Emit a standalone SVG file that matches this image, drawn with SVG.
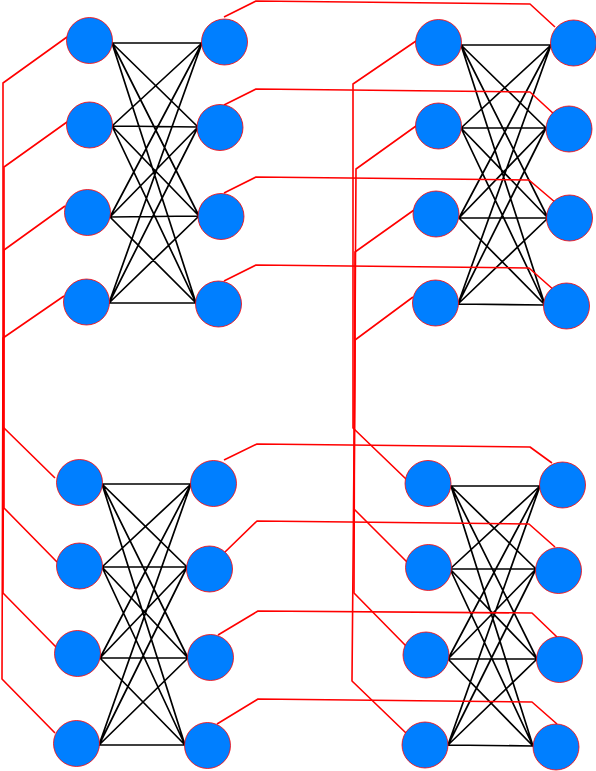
<svg xmlns="http://www.w3.org/2000/svg" width="596" height="771" viewBox="0 0 596 771">
<style>
.bg{fill:#ffffff}
.edge{stroke:#000000;stroke-width:1.7;fill:none;stroke-linecap:round}
.link{stroke:#ff0000;stroke-width:1.6;fill:none;stroke-linejoin:round}
.node circle{fill:#007fff;stroke:#ff0000;stroke-width:0.8}
</style>
<rect class="bg" x="0" y="0" width="596" height="771"/>
<g id="connectors">
<g id="edges-black">
<path class="edge" d="M112,43 L202,43 M112,43 L198,127 M112,43 L199,216 M112,43 L196,303 M112,126 L202,43 M112,126 L198,127 M112,126 L199,216 M112,126 L196,303 M110,217 L202,43 M110,217 L198,127 M110,217 L199,216 M110,217 L196,303 M109,303 L202,43 M109,303 L198,127 M109,303 L199,216 M109,303 L196,303"/>
<path class="edge" d="M461,45 L551,45 M461,45 L546,128 M461,45 L548,218 M461,45 L545,305 M461,128 L551,45 M461,128 L546,128 M461,128 L548,218 M461,128 L545,305 M459,218 L551,45 M459,218 L546,128 M459,218 L548,218 M459,218 L545,305 M458,304 L551,45 M458,304 L546,128 M458,304 L548,218 M458,304 L545,305"/>
<path class="edge" d="M102,484 L191,484 M102,484 L187,567 M102,484 L188,658 M102,484 L185,745 M102,567 L191,484 M102,567 L187,567 M102,567 L188,658 M102,567 L185,745 M100,658 L191,484 M100,658 L187,567 M100,658 L188,658 M100,658 L185,745 M99,745 L191,484 M99,745 L187,567 M99,745 L188,658 M99,745 L185,745"/>
<path class="edge" d="M451,486 L540,486 M451,486 L536,569 M451,486 L537,659 M451,486 L533,746 M450,569 L540,486 M450,569 L536,569 M450,569 L537,659 M450,569 L533,746 M448,659 L540,486 M448,659 L536,569 M448,659 L537,659 M448,659 L533,746 M448,745 L540,486 M448,745 L536,569 M448,745 L537,659 M448,745 L533,746"/>
</g>
<g id="links-red">
<path class="link" d="M67,37 L3,83 L3,427 L55,478"/>
<path class="link" d="M67,122 L4,167 L4,508 L57,562"/>
<path class="link" d="M65,206 L4,250 L3,593 L56,647"/>
<path class="link" d="M64,296 L3,338 L2,679 L55,733"/>
<path class="link" d="M416,41 L353,84 L353,428 L406,479"/>
<path class="link" d="M416,126 L356,169 L354,509 L408,563"/>
<path class="link" d="M414,210 L355,252 L354,593 L407,647"/>
<path class="link" d="M413,297 L355,340 L352,681 L406,733"/>
<path class="link" d="M224,17 L256,1 L530,4 L555,27"/>
<path class="link" d="M224,105 L256,89 L530,92 L555,115"/>
<path class="link" d="M224,193 L256,177 L529,180 L556,203"/>
<path class="link" d="M224,281 L256,265 L529,268 L555,291"/>
<path class="link" d="M224,460 L257,444 L530,447 L552,463"/>
<path class="link" d="M225,552 L257,521 L529,524 L555,547"/>
<path class="link" d="M218,635 L258,611 L532,613 L557,637"/>
<path class="link" d="M217,724 L258,699 L532,702 L557,724"/>
</g>
</g>
<g id="a-l1" class="node"><circle cx="89.5" cy="40.5" r="23"/></g>
<g id="a-l2" class="node"><circle cx="89.5" cy="125" r="23"/></g>
<g id="a-l3" class="node"><circle cx="87.5" cy="212.5" r="23"/></g>
<g id="a-l4" class="node"><circle cx="86.5" cy="302" r="23"/></g>
<g id="a-r1" class="node"><circle cx="224.5" cy="42" r="23"/></g>
<g id="a-r2" class="node"><circle cx="220" cy="127.5" r="23"/></g>
<g id="a-r3" class="node"><circle cx="221" cy="216.5" r="23"/></g>
<g id="a-r4" class="node"><circle cx="218.5" cy="304" r="23"/></g>
<g id="b-l1" class="node"><circle cx="438.5" cy="42.5" r="23"/></g>
<g id="b-l2" class="node"><circle cx="438.5" cy="126" r="23"/></g>
<g id="b-l3" class="node"><circle cx="436" cy="214" r="23"/></g>
<g id="b-l4" class="node"><circle cx="435.5" cy="303" r="23"/></g>
<g id="b-r1" class="node"><circle cx="573.5" cy="43" r="23"/></g>
<g id="b-r2" class="node"><circle cx="569" cy="129" r="23"/></g>
<g id="b-r3" class="node"><circle cx="569.5" cy="218" r="23"/></g>
<g id="b-r4" class="node"><circle cx="566.5" cy="306" r="23"/></g>
<g id="c-l1" class="node"><circle cx="79.5" cy="482.5" r="23"/></g>
<g id="c-l2" class="node"><circle cx="79.5" cy="566" r="23"/></g>
<g id="c-l3" class="node"><circle cx="77.5" cy="653.5" r="23"/></g>
<g id="c-l4" class="node"><circle cx="76.5" cy="743.5" r="23"/></g>
<g id="c-r1" class="node"><circle cx="213.5" cy="483.5" r="23"/></g>
<g id="c-r2" class="node"><circle cx="209.5" cy="569" r="23"/></g>
<g id="c-r3" class="node"><circle cx="210.5" cy="657.5" r="23"/></g>
<g id="c-r4" class="node"><circle cx="207.5" cy="745.5" r="23"/></g>
<g id="d-l1" class="node"><circle cx="428" cy="483.5" r="23"/></g>
<g id="d-l2" class="node"><circle cx="428.5" cy="567.5" r="23"/></g>
<g id="d-l3" class="node"><circle cx="426" cy="655" r="23"/></g>
<g id="d-l4" class="node"><circle cx="425" cy="745" r="23"/></g>
<g id="d-r1" class="node"><circle cx="562.5" cy="485" r="23"/></g>
<g id="d-r2" class="node"><circle cx="558.5" cy="570.5" r="23"/></g>
<g id="d-r3" class="node"><circle cx="559.5" cy="659.5" r="23"/></g>
<g id="d-r4" class="node"><circle cx="556" cy="747" r="23"/></g>
</svg>
